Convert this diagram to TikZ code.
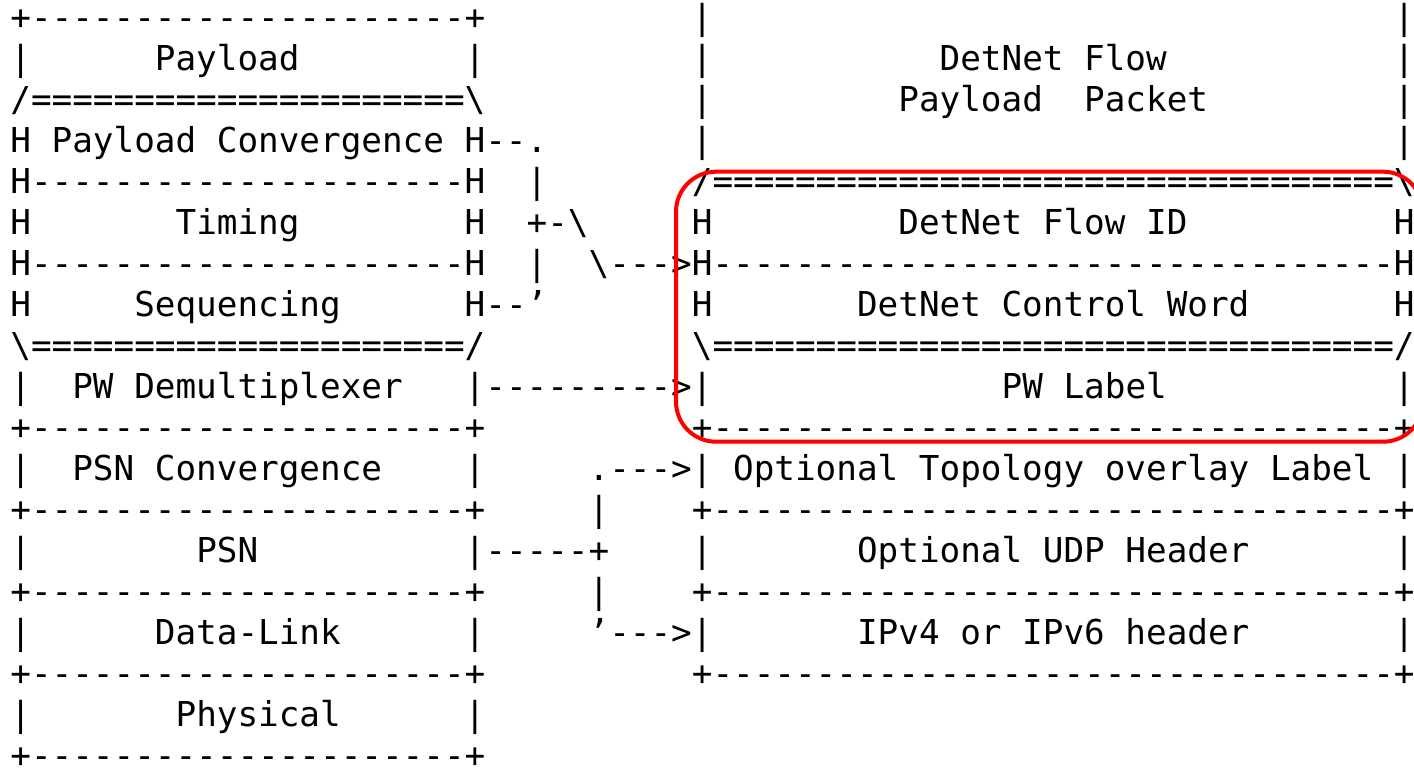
\documentclass[tikz,border=0pt]{standalone}
\usepackage{fontspec}
\newfontfamily\asciimono[Ligatures=TeXOff]{DejaVu Sans Mono}
\tikzset{
  asc/.style={anchor=base west, inner sep=0pt, outer sep=0pt,
    font=\asciimono\fontsize{34.3}{41}\selectfont},
  hilite/.style={draw=red, line width=4pt, rounded corners=40pt,
    minimum width=747pt, minimum height=270pt, inner sep=0pt}
}
\newcommand\asc[3]{\node[asc] (r#1c#2) at ({10.4+20.65*#2},{-29.3-41*#1}) {#3};}
\newcommand\bs{\textbackslash}
\begin{document}
\begin{tikzpicture}[x=1pt,y=1pt]
\useasboundingbox[fill=white] (0,0) rectangle (1414,-768);
% row 0
\asc{0}{0}{+---------------------+}
\asc{0}{33}{|}
\asc{0}{67}{|}
% row 1
\asc{1}{0}{|}
\asc{1}{7}{Payload}
\asc{1}{22}{|}
\asc{1}{33}{|}
\asc{1}{45}{DetNet~Flow}
\asc{1}{67}{|}
% row 2
\asc{2}{0}{/=====================\bs}
\asc{2}{33}{|}
\asc{2}{43}{Payload~~Packet}
\asc{2}{67}{|}
% row 3
\asc{3}{0}{H~Payload~Convergence~H--.}
\asc{3}{33}{|}
\asc{3}{67}{|}
% row 4
\asc{4}{0}{H---------------------H}
\asc{4}{25}{|}
\asc{4}{33}{/=================================\bs}
% row 5
\asc{5}{0}{H}
\asc{5}{8}{Timing}
\asc{5}{22}{H}
\asc{5}{25}{+-\bs}
\asc{5}{33}{H}
\asc{5}{43}{DetNet~Flow~ID}
\asc{5}{67}{H}
% row 6
\asc{6}{0}{H---------------------H}
\asc{6}{25}{|}
\asc{6}{28}{\bs--->H---------------------------------H}
% row 7
\asc{7}{0}{H}
\asc{7}{6}{Sequencing}
\asc{7}{22}{H--’}
\asc{7}{33}{H}
\asc{7}{41}{DetNet~Control~Word}
\asc{7}{67}{H}
% row 8
\asc{8}{0}{\bs=====================/}
\asc{8}{33}{\bs=================================/}
% row 9
\asc{9}{0}{|}
\asc{9}{3}{PW~Demultiplexer}
\asc{9}{22}{|--------->|}
\asc{9}{48}{PW~Label}
\asc{9}{67}{|}
% row 10
\asc{10}{0}{+---------------------+}
\asc{10}{33}{+---------------------------------+}
% row 11
\asc{11}{0}{|}
\asc{11}{3}{PSN~Convergence}
\asc{11}{22}{|}
\asc{11}{28}{.--->|~Optional~Topology~overlay~Label~|}
% row 12
\asc{12}{0}{+---------------------+}
\asc{12}{28}{|}
\asc{12}{33}{+---------------------------------+}
% row 13
\asc{13}{0}{|}
\asc{13}{9}{PSN}
\asc{13}{22}{|-----+}
\asc{13}{33}{|}
\asc{13}{41}{Optional~UDP~Header}
\asc{13}{67}{|}
% row 14
\asc{14}{0}{+---------------------+}
\asc{14}{28}{|}
\asc{14}{33}{+---------------------------------+}
% row 15
\asc{15}{0}{|}
\asc{15}{7}{Data-Link}
\asc{15}{22}{|}
\asc{15}{28}{’--->|}
\asc{15}{41}{IPv4~or~IPv6~header}
\asc{15}{67}{|}
% row 16
\asc{16}{0}{+---------------------+}
\asc{16}{33}{+---------------------------------+}
% row 17
\asc{17}{0}{|}
\asc{17}{8}{Physical}
\asc{17}{22}{|}
% row 18
\asc{18}{0}{+---------------------+}
% highlight
\node[hilite] (hl) at (1049.5,-306.7) {};
\end{tikzpicture}
\end{document}
